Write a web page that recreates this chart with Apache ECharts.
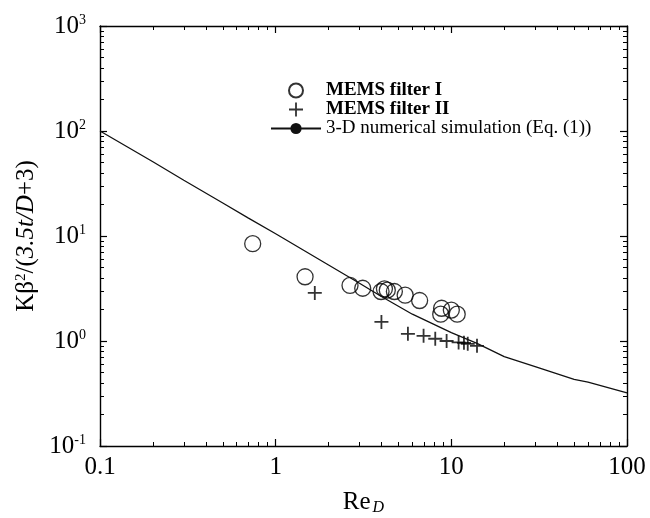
<!DOCTYPE html>
<html>
<head>
<meta charset="utf-8">
<script src="https://cdn.jsdelivr.net/npm/echarts@6/dist/echarts.min.js"></script>
<style>
  html, body { margin: 0; padding: 0; background: #fff; }
  #main { width: 650px; height: 518px; }
</style>
</head>
<body>
<div id="main"></div>
<script>
// Re_D vs K*beta^2/(3.5t/D+3), log-log
const filterOneRe = [0.74, 1.47, 2.65, 3.13, 3.98, 4.16, 4.32, 4.74, 5.46, 6.6, 8.8, 8.7, 10.0, 10.8]
const filterOneK = [8.45, 4.09, 3.38, 3.18, 2.96, 3.14, 3.05, 2.96, 2.73, 2.43, 2.05, 1.8, 1.97, 1.8]
const filterTwoRe = [1.67, 4.0, 5.66, 6.95, 8.1, 9.4, 11.0, 11.8, 12.4, 14.0]
const filterTwoK = [2.87, 1.52, 1.17, 1.12, 1.05, 1.0, 0.97, 0.96, 0.94, 0.9]
const simRe = [0.1, 0.2, 0.3, 0.5, 0.7, 1, 2, 3, 4, 6, 10, 14, 20, 30, 50, 60, 100]
const simK = [100, 51, 34, 20.6, 14.8, 10.5, 5.3, 3.55, 2.65, 1.8, 1.2, 0.95, 0.71, 0.57, 0.43, 0.405, 0.32]

const xTickLabels = ['0.1', '1', '10', '100']
const yTickExp = ['-1', '0', '1', '2', '3']

const FONT = '"Liberation Serif", "DejaVu Serif", serif'

function pairs (xs, ys) {
  return xs.map((x, i) => [x, ys[i]])
}

// minor tick positions (2..9 in each decade), in log10 space
function minorTicks (lo, hi) {
  let out = []
  for (let e = lo; e < hi; e++) {
    for (let k = 2; k <= 9; k++) out.push(e + Math.log10(k))
  }
  return out
}

const minorX = minorTicks(-1, 2)
const minorY = minorTicks(-1, 3)

const lineStyle = { color: '#000', width: 1.4 }

function logAxis (pos, min, max, showLabel, extra) {
  return Object.assign({
    type: 'log',
    logBase: 10,
    position: pos,
    min: min,
    max: max,
    axisLine: { show: true, onZero: false, lineStyle: lineStyle },
    axisTick: { show: true, inside: true, length: 7, lineStyle: { color: '#000', width: 1.2 } },
    splitLine: { show: false },
    axisLabel: { show: showLabel }
  }, extra || {})
}

function minorAxis (pos, min, max, ticks) {
  return {
    type: 'value',
    position: pos,
    min: min,
    max: max,
    axisLine: { show: false, onZero: false },
    axisTick: { show: true, inside: true, length: 4, customValues: ticks, lineStyle: { color: '#000', width: 1 } },
    splitLine: { show: false },
    axisLabel: { show: false }
  }
}

let myChart = echarts.init(document.getElementById('main'))
let options = {
  animation: false,
  backgroundColor: '#fff',
  grid: { left: 100, right: 23, top: 26, bottom: 72, containLabel: false, outerBoundsMode: 'none' },
  legend: {
    orient: 'vertical',
    left: 265,
    top: 76,
    itemWidth: 50,
    itemHeight: 14,
    itemGap: 0,
    textStyle: { fontFamily: FONT, fontSize: 19, color: '#000', lineHeight: 17 },
    data: [
      { name: 'MEMS filter I', textStyle: { fontWeight: 'bold' } },
      { name: 'MEMS filter II', textStyle: { fontWeight: 'bold' } },
      { name: '3-D numerical simulation (Eq. (1))' }
    ]
  },
  xAxis: [
    logAxis('bottom', 0.1, 100, true, {
      axisLabel: {
        show: true,
        margin: 9,
        fontFamily: FONT,
        fontSize: 25,
        color: '#000',
        formatter: (v, i) => xTickLabels[i]
      },
      name: '{a|Re}{d|D}',
      nameLocation: 'middle',
      nameGap: 44,
      nameTextStyle: {
        rich: {
          a: { fontFamily: FONT, fontSize: 25, color: '#000', verticalAlign: 'top', lineHeight: 26 },
          d: { fontFamily: FONT, fontSize: 16, fontStyle: 'italic', color: '#000', verticalAlign: 'bottom', lineHeight: 16, padding: [10, 0, 0, 2] }
        }
      }
    }),
    minorAxis('bottom', -1, 2, minorX),
    logAxis('top', 0.1, 100, false),
    minorAxis('top', -1, 2, minorX)
  ],
  yAxis: [
    logAxis('left', 0.1, 1000, true, {
      axisLabel: {
        show: true,
        margin: 14,
        formatter: (v, i) => '{b|10}{s|' + yTickExp[i] + '}',
        rich: {
          b: { fontFamily: FONT, fontSize: 25, color: '#000' },
          s: { fontFamily: FONT, fontSize: 14, color: '#000', verticalAlign: 'top', padding: [0, 0, 12, 0] }
        }
      },
      name: '{a|Kβ}{s|2}{a|/(}{i|3.5t/D}{a|+3)}',
      nameLocation: 'middle',
      nameGap: 60,
      nameTextStyle: {
        rich: {
          a: { fontFamily: FONT, fontSize: 25, color: '#000' },
          i: { fontFamily: FONT, fontSize: 25, fontStyle: 'italic', color: '#000' },
          s: { fontFamily: FONT, fontSize: 15, color: '#000', verticalAlign: 'top', padding: [0, 0, 10, 0] }
        }
      }
    }),
    minorAxis('left', -1, 3, minorY),
    logAxis('right', 0.1, 1000, false),
    minorAxis('right', -1, 3, minorY)
  ],
  series: [
    {
      name: 'MEMS filter I',
      type: 'scatter',
      symbol: 'circle',
      symbolSize: 16,
      itemStyle: { color: 'rgba(0,0,0,0)', borderColor: '#000', borderWidth: 1.3 },
      data: pairs(filterOneRe, filterOneK)
    },
    {
      name: 'MEMS filter II',
      type: 'scatter',
      symbol: 'path://M4.35,0H5.65V10H4.35ZM0,4.35H10V5.65H0Z',
      symbolSize: 14,
      itemStyle: { color: '#000' },
      data: pairs(filterTwoRe, filterTwoK)
    },
    {
      name: '3-D numerical simulation (Eq. (1))',
      type: 'line',
      symbol: 'none',
      showSymbol: false,
      smooth: false,
      lineStyle: { color: '#111', width: 1.3 },
      itemStyle: { color: '#111' },
      data: pairs(simRe, simK)
    }
  ]
}
myChart.setOption(options)
</script>
</body>
</html>
